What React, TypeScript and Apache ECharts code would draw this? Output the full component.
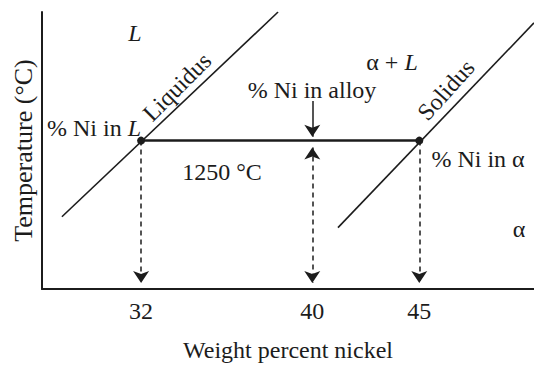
import React, { useEffect, useRef } from "react";
import * as echarts from "echarts";

// Data (weight % Ni, temperature °C)
const tieTemperature = 1250;
const liquidusLine: [number, number][] = [
  [28.3, 1173],
  [38.4, 1380],
];
const solidusLine: [number, number][] = [
  [41.2, 1162],
  [50.36, 1369],
];
const tieLine: [number, number][] = [
  [32, 1250],
  [45, 1250],
];
const tickLabels = [32, 40, 45];
const compositionL = 32;
const compositionAlloy = 40;
const compositionAlpha = 45;

const FONT = "'Liberation Serif', 'Times New Roman', serif";
const INK = "#1c1c1c";

export default function App() {
  const ref = useRef<HTMLDivElement>(null);

  useEffect(() => {
    if (!ref.current) return;
    const chart = echarts.init(ref.current, undefined, { renderer: "svg" });
    const fs = 24;
    const txt = (
      text: string,
      x: number,
      y: number,
      opts: any = {}
    ) => ({
      type: "text",
      x,
      y,
      rotation: opts.rotation || 0,
      style: {
        text,
        fontSize: opts.fontSize || fs,
        fontFamily: FONT,
        fontStyle: opts.italic ? "italic" : "normal",
        fill: INK,
        align: "center",
        verticalAlign: "middle",
        rich: {
          i: { fontStyle: "italic", fontSize: opts.fontSize || fs, fontFamily: FONT, fill: INK },
        },
      },
    });

    const bottomTip = 1106;
    chart.setOption({
      animation: false,
      backgroundColor: "#ffffff",
      grid: { left: 42, right: 0, top: 12, bottom: 71 },
      xAxis: {
        type: "value",
        min: 27.37,
        max: 50.36,
        axisLine: { show: true, lineStyle: { color: INK, width: 2 } },
        axisTick: { show: false },
        splitLine: { show: false },
        axisLabel: {
          customValues: tickLabels,
          fontSize: fs,
          fontFamily: FONT,
          color: INK,
          margin: 10,
        },
        name: "Weight percent nickel",
        nameLocation: "middle",
        nameGap: 49,
        nameTextStyle: { fontSize: fs, fontFamily: FONT, color: INK },
      },
      yAxis: {
        type: "value",
        min: 1100,
        max: 1380,
        axisLine: { show: true, onZero: false, lineStyle: { color: INK, width: 2 } },
        axisTick: { show: false },
        axisLabel: { show: false },
        splitLine: { show: false },
        name: "Temperature (°C)",
        nameLocation: "middle",
        nameGap: 6,
        nameTextStyle: { fontSize: 26, fontFamily: FONT, color: INK },
      },
      series: [
        {
          type: "line",
          name: "Liquidus",
          data: liquidusLine,
          symbol: "none",
          lineStyle: { color: INK, width: 1.6 },
          silent: true,
        },
        {
          type: "line",
          name: "Solidus",
          data: solidusLine,
          symbol: "none",
          lineStyle: { color: INK, width: 1.6 },
          silent: true,
        },
        {
          type: "line",
          name: "Tie line",
          data: tieLine,
          symbol: "circle",
          symbolSize: 8,
          itemStyle: { color: INK },
          lineStyle: { color: INK, width: 2.5 },
          silent: true,
          markLine: {
            silent: true,
            label: { show: false },
            symbolSize: 12,
            lineStyle: { color: INK, width: 1.5, type: [5, 4] },
            data: [
              [
                { coord: [compositionL, tieTemperature], symbol: "none" },
                { coord: [compositionL, bottomTip], symbol: "arrow" },
              ],
              [
                { coord: [compositionAlloy, 1243], symbol: "arrow" },
                { coord: [compositionAlloy, bottomTip], symbol: "arrow" },
              ],
              [
                { coord: [compositionAlpha, tieTemperature], symbol: "none" },
                { coord: [compositionAlpha, bottomTip], symbol: "arrow" },
              ],
              [
                {
                  coord: [compositionAlloy, 1290],
                  symbol: "none",
                  lineStyle: { type: "solid", width: 1.5, color: INK },
                },
                { coord: [compositionAlloy, 1254], symbol: "arrow" },
              ],
            ],
          },
        },
      ],
      graphic: [
        txt("L", 135, 33, { italic: true }),
        txt("Liquidus", 177, 87, { rotation: Math.PI / 4 }),
        txt("% Ni in {i|L}", 94, 128),
        txt("1250 °C", 222, 172),
        txt("α + {i|L}", 392, 62),
        txt("% Ni in alloy", 312, 90),
        txt("Solidus", 446, 90, { rotation: (48 * Math.PI) / 180 }),
        txt("% Ni in α", 478, 159),
        txt("α", 519, 229),
      ],
    });
    return () => chart.dispose();
  }, []);

  return (
    <div
      ref={ref}
      style={{ position: "fixed", left: 0, top: 0, width: 534, height: 367 }}
    />
  );
}
